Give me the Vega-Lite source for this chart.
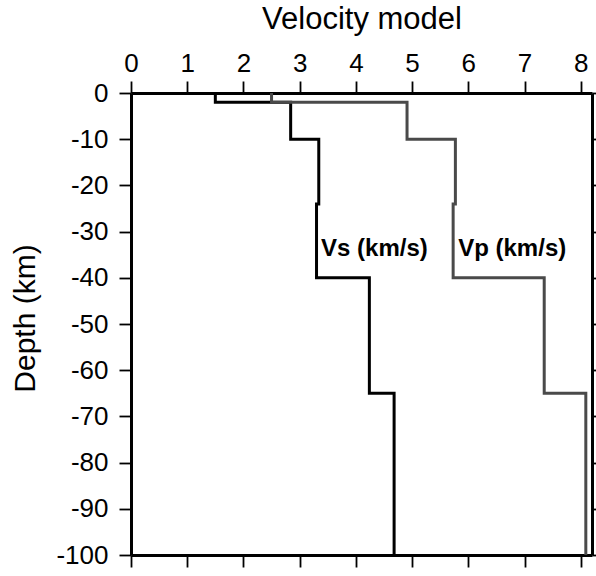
{
  "$schema": "https://vega.github.io/schema/vega-lite/v6.json",
  "width": 461,
  "height": 462,
  "autosize": {"type": "none"},
  "padding": {"left": 131, "top": 93, "right": 4, "bottom": 21},
  "background": "white",
  "config": {
    "view": {"stroke": null},
    "font": "Liberation Sans",
    "axis": {
      "grid": false,
      "domainColor": "black",
      "domainWidth": 3,
      "tickColor": "black",
      "tickWidth": 1.8,
      "tickSize": 12,
      "labelFontSize": 26,
      "labelColor": "black",
      "labelPadding": 8,
      "titleColor": "black",
      "titleFontWeight": "normal",
      "labelFlush": false,
      "labelOverlap": false
    }
  },
  "layer": [
    {
      "data": {
        "values": [
          {"model": "Vs", "v": 1.5, "d": 0},
          {"model": "Vs", "v": 2.84, "d": -2},
          {"model": "Vs", "v": 3.34, "d": -10},
          {"model": "Vs", "v": 3.3, "d": -24},
          {"model": "Vs", "v": 4.24, "d": -40},
          {"model": "Vs", "v": 4.68, "d": -65},
          {"model": "Vs", "v": 4.68, "d": -100},
          {"model": "Vp", "v": 2.5, "d": 0},
          {"model": "Vp", "v": 4.91, "d": -2},
          {"model": "Vp", "v": 5.77, "d": -10},
          {"model": "Vp", "v": 5.73, "d": -24},
          {"model": "Vp", "v": 7.35, "d": -40},
          {"model": "Vp", "v": 8.09, "d": -65},
          {"model": "Vp", "v": 8.09, "d": -100}
        ]
      },
      "mark": {"type": "line", "interpolate": "step-before", "strokeWidth": 3, "strokeJoin": "miter", "strokeCap": "butt", "clip": true},
      "encoding": {
        "x": {
          "field": "v",
          "type": "quantitative",
          "scale": {"domain": [0, 8.2], "nice": false, "zero": false},
          "axis": {
            "orient": "top",
            "title": "Velocity model",
            "titleFontSize": 31,
            "titlePadding": 15,
            "labelPadding": 5,
            "values": [0, 1, 2, 3, 4, 5, 6, 7, 8]
          }
        },
        "y": {
          "field": "d",
          "type": "quantitative",
          "scale": {"domain": [-100, 0], "nice": false, "zero": false},
          "axis": {
            "orient": "left",
            "title": "Depth (km)",
            "titleFontSize": 30,
            "titlePadding": 15,
            "titleY": 225,
            "labelPadding": 11,
            "values": [0, -10, -20, -30, -40, -50, -60, -70, -80, -90, -100],
            "labelExpr": "replace(datum.label, '−', '-')"
          }
        },
        "color": {
          "field": "model",
          "type": "nominal",
          "scale": {"domain": ["Vs", "Vp"], "range": ["#000000", "#4a4a4a"]},
          "legend": null
        },
        "order": {"field": "d", "sort": "descending"}
      }
    },
    {
      "data": {
        "values": [
          {"label": "Vs (km/s)", "v": 3.38, "d": -35.2},
          {"label": "Vp (km/s)", "v": 5.82, "d": -35.2}
        ]
      },
      "mark": {"type": "text", "align": "left", "baseline": "alphabetic", "fontSize": 24, "fontWeight": "bold", "color": "black"},
      "encoding": {
        "x": {
          "field": "v",
          "type": "quantitative",
          "scale": {"domain": [0, 8.2], "nice": false, "zero": false},
          "axis": {"orient": "bottom", "labels": false, "title": null, "values": [0, 1, 2, 3, 4, 5, 6, 7, 8]}
        },
        "y": {
          "field": "d",
          "type": "quantitative",
          "scale": {"domain": [-100, 0], "nice": false, "zero": false},
          "axis": {"orient": "right", "labels": false, "title": null, "values": [0, -10, -20, -30, -40, -50, -60, -70, -80, -90, -100]}
        },
        "text": {"field": "label"}
      }
    }
  ],
  "resolve": {"axis": {"x": "independent", "y": "independent"}}
}
